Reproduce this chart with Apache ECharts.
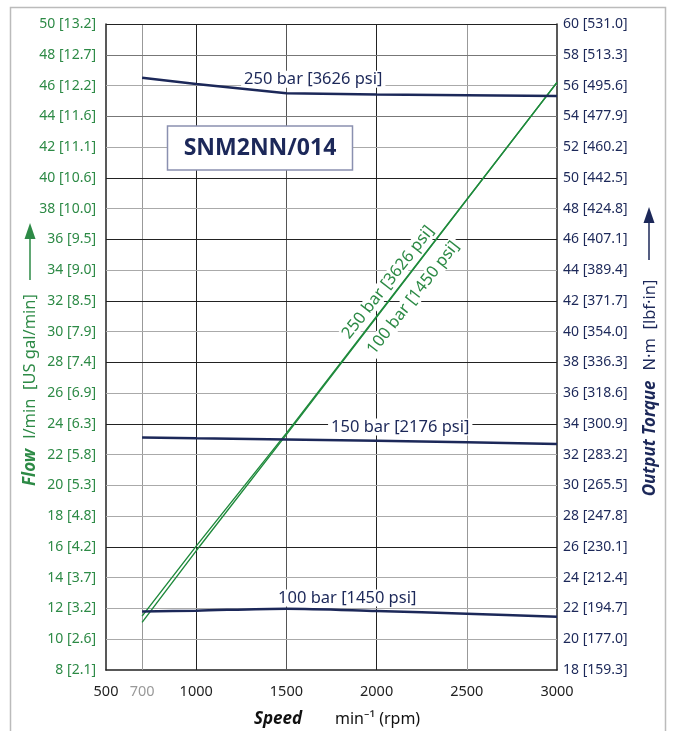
<!DOCTYPE html>
<html>
<head>
<meta charset="utf-8">
<script src="https://cdn.jsdelivr.net/npm/echarts@6/dist/echarts.min.js"></script>
<style>
  html, body { margin: 0; padding: 0; background: #fff; }
  #chart { width: 673px; height: 731px; }
</style>
</head>
<body>
<div id="chart"></div>
<script>
// speed axis (rpm)
const speedTicks = [500, 700, 1000, 1500, 2000, 2500, 3000];
const speedTickText = ['500', '700', '1000', '1500', '2000', '2500', '3000'];

// left axis: flow l/min [US gal/min]
const flowTicks = [8, 10, 12, 14, 16, 18, 20, 22, 24, 26, 28, 30, 32, 34, 36, 38, 40, 42, 44, 46, 48, 50];
const flowGal = ['2.1', '2.6', '3.2', '3.7', '4.2', '4.8', '5.3', '5.8', '6.3', '6.9', '7.4',
  '7.9', '8.5', '9.0', '9.5', '10.0', '10.6', '11.1', '11.6', '12.2', '12.7', '13.2'];

// right axis: output torque N·m [lbf·in]
const torqueTicks = [18, 20, 22, 24, 26, 28, 30, 32, 34, 36, 38, 40, 42, 44, 46, 48, 50, 52, 54, 56, 58, 60];
const torqueLbf = ['159.3', '177.0', '194.7', '212.4', '230.1', '247.8', '265.5', '283.2', '300.9', '318.6', '336.3',
  '354.0', '371.7', '389.4', '407.1', '424.8', '442.5', '460.2', '477.9', '495.6', '513.3', '531.0'];

// flow curves (green)
const flowSpeed = [700, 1000, 1500, 3000];
const flow250 = [11.5, 16.05, 23.4, 46.2];
const flow100 = [11.1, 15.75, 23.3, 46.2];

// torque curves (navy)
const torqueSpeed = [700, 1000, 1500, 2000, 2500, 3000];
const torque250 = [56.5, 56.1, 55.5, 55.42, 55.37, 55.32];
const torque150 = [33.12, 33.06, 32.98, 32.9, 32.8, 32.7];
const torque100 = [21.8, 21.86, 21.99, 21.84, 21.66, 21.47];

// grid lines
const vGridDark = [1000, 2000];
const vGridMid = [1500];
const vGridLight = [700, 2500];
const hGridDark = [16, 24, 28, 32, 36, 40, 50];
const hGridMid = [44, 48];
const hGridLight = [10, 12, 14, 18, 20, 22, 26, 30, 34, 38, 42, 46];

const GREEN = '#2d8a46';
const GREEN_LINE = '#1f8a3c';
const NAVY = '#1c2859';
const FONT = 'Noto Sans';

const zip = (xs, ys) => xs.map((x, i) => [x, ys[i]]);

const gl = (color) => ({ color: color, width: 1, type: 'solid' });
const gridLines = [].concat(
  vGridDark.map(v => ({ xAxis: v, lineStyle: gl('#222') })),
  vGridMid.map(v => ({ xAxis: v, lineStyle: gl('#555') })),
  vGridLight.map(v => ({ xAxis: v, lineStyle: gl('#999') })),
  hGridDark.map(v => ({ yAxis: v, lineStyle: gl('#222') })),
  hGridMid.map(v => ({ yAxis: v, lineStyle: gl('#777') })),
  hGridLight.map(v => ({ yAxis: v, lineStyle: gl('#aaa') }))
);

const chart = echarts.init(document.getElementById('chart'), null, { renderer: 'canvas' });

const lineLabel = (color, rotate) => ({
  show: true,
  position: 'inside',
  formatter: p => p.name,
  color: color,
  fontFamily: FONT,
  fontSize: 16.5,
  rotate: rotate,
  backgroundColor: '#fff',
  padding: [0, 3]
});

chart.setOption({
  animation: false,
  backgroundColor: '#fff',
  textStyle: { fontFamily: FONT },
  grid: { left: 106, top: 24, width: 451, height: 646 },
  xAxis: {
    type: 'value',
    min: 500,
    max: 3000,
    interval: 100,
    splitLine: { show: false },
    axisTick: { show: false },
    axisLine: { show: true, lineStyle: { color: '#222', width: 1.5 } },
    axisLabel: {
      margin: 14,
      color: '#222',
      fontSize: 14.5,
      fontFamily: FONT,
      formatter: v => {
        const i = speedTicks.indexOf(v);
        if (i < 0) return '';
        return v === 700 ? '{g|' + speedTickText[i] + '}' : speedTickText[i];
      },
      rich: { g: { color: '#999', fontSize: 14.5, fontFamily: FONT } }
    }
  },
  yAxis: [
    {
      type: 'value',
      position: 'left',
      min: 8,
      max: 50,
      interval: 2,
      splitLine: { show: false },
      axisTick: { show: false },
      axisLine: { show: true, lineStyle: { color: '#222', width: 1.5 } },
      axisLabel: {
        margin: 10,
        color: GREEN,
        fontSize: 14,
        fontFamily: FONT,
        padding: [5, 0, 0, 0],
        formatter: v => {
          const i = flowTicks.indexOf(v);
          return i < 0 ? '' : v + ' [' + flowGal[i] + ']';
        }
      }
    },
    {
      type: 'value',
      position: 'right',
      min: 18,
      max: 60,
      interval: 2,
      splitLine: { show: false },
      axisTick: { show: false },
      axisLine: { show: true, lineStyle: { color: '#222', width: 1.5 } },
      axisLabel: {
        margin: 6,
        color: NAVY,
        fontSize: 14,
        fontFamily: FONT,
        padding: [3, 0, 0, 0],
        formatter: v => {
          const i = torqueTicks.indexOf(v);
          return i < 0 ? '' : v + ' [' + torqueLbf[i] + ']';
        }
      }
    }
  ],
  series: [
    {
      // grid lines
      type: 'line',
      data: [],
      silent: true,
      markLine: {
        silent: true,
        z: 1,
        symbol: ['none', 'none'],
        label: { show: false },
        data: gridLines
      }
    },
    {
      // flow curve labels
      type: 'line',
      data: [],
      yAxisIndex: 0,
      silent: true,
      markPoint: {
        z: 2,
        symbol: 'rect',
        symbolSize: 1,
        itemStyle: { color: 'rgba(0,0,0,0)' },
        label: lineLabel(GREEN, 52),
        data: [
          { name: '250 bar [3626 psi]', coord: [2064, 33.2] },
          { name: '100 bar [1450 psi]', coord: [2203, 32.2] }
        ]
      }
    },
    {
      // torque curve labels
      type: 'line',
      data: [],
      yAxisIndex: 1,
      silent: true,
      markPoint: {
        z: 2,
        symbol: 'rect',
        symbolSize: 1,
        itemStyle: { color: 'rgba(0,0,0,0)' },
        label: lineLabel(NAVY, 0),
        data: [
          { name: '250 bar [3626 psi]', coord: [1649, 56.4] },
          { name: '150 bar [2176 psi]', coord: [2131, 33.8] },
          { name: '100 bar [1450 psi]', coord: [1837, 22.68] }
        ]
      }
    },
    {
      name: 'Flow 250 bar',
      type: 'line',
      yAxisIndex: 0,
      z: 3,
      symbol: 'none',
      data: zip(flowSpeed, flow250),
      lineStyle: { color: GREEN_LINE, width: 1.4 }
    },
    {
      name: 'Flow 100 bar',
      type: 'line',
      yAxisIndex: 0,
      z: 3,
      symbol: 'none',
      data: zip(flowSpeed, flow100),
      lineStyle: { color: GREEN_LINE, width: 1.4 }
    },
    {
      name: 'Torque 250 bar',
      type: 'line',
      yAxisIndex: 1,
      z: 3,
      symbol: 'none',
      data: zip(torqueSpeed, torque250),
      lineStyle: { color: NAVY, width: 2.5 }
    },
    {
      name: 'Torque 150 bar',
      type: 'line',
      yAxisIndex: 1,
      z: 3,
      symbol: 'none',
      data: zip(torqueSpeed, torque150),
      lineStyle: { color: NAVY, width: 2.5 }
    },
    {
      name: 'Torque 100 bar',
      type: 'line',
      yAxisIndex: 1,
      z: 3,
      symbol: 'none',
      smooth: 0.3,
      data: zip(torqueSpeed, torque100),
      lineStyle: { color: NAVY, width: 2.5 }
    }
  ],
  graphic: [
    // outer frame
    {
      type: 'rect',
      z: 0,
      silent: true,
      shape: { x: 10.5, y: 7.5, width: 655, height: 760 },
      style: { fill: 'none', stroke: '#bbb', lineWidth: 1.5 }
    },
    // model box
    {
      type: 'rect',
      z: 10,
      shape: { x: 167.5, y: 126, width: 185, height: 44 },
      style: { fill: '#fff', stroke: '#8a90b0', lineWidth: 1.5 }
    },
    {
      type: 'text',
      z: 11,
      x: 260,
      y: 148,
      style: {
        text: 'SNM2NN/014',
        fill: NAVY,
        font: 'bold 23px "Noto Sans"',
        align: 'center',
        verticalAlign: 'middle'
      }
    },
    // x axis title
    {
      type: 'text',
      x: 254,
      y: 719,
      style: {
        text: 'Speed',
        fill: '#111',
        font: 'italic bold 17px "Noto Sans"',
        verticalAlign: 'middle'
      }
    },
    {
      type: 'text',
      x: 335,
      y: 719,
      style: {
        text: 'min\u207B\u00B9 (rpm)',
        fill: '#111',
        font: '16px "Noto Sans"',
        verticalAlign: 'middle'
      }
    },
    // left axis title
    {
      type: 'text',
      x: 30,
      y: 390,
      rotation: Math.PI / 2,
      style: {
        text: '{b|Flow}   {r|l/min  [US gal/min]}',
        align: 'center',
        verticalAlign: 'middle',
        rich: {
          b: { fill: GREEN, font: 'italic bold 17px "Noto Sans"' },
          r: { fill: GREEN, font: '16.5px "Noto Sans"' }
        }
      }
    },
    {
      type: 'line',
      shape: { x1: 30, y1: 280, x2: 30, y2: 236 },
      style: { stroke: GREEN, lineWidth: 1.5 }
    },
    {
      type: 'polygon',
      shape: { points: [[24.5, 239], [35.5, 239], [30, 223]] },
      style: { fill: GREEN }
    },
    // right axis title
    {
      type: 'text',
      x: 650,
      y: 388,
      rotation: Math.PI / 2,
      style: {
        text: '{b|Output Torque}   {r|N\u00B7m  [lbf\u00B7in]}',
        align: 'center',
        verticalAlign: 'middle',
        rich: {
          b: { fill: NAVY, font: 'italic bold 17px "Noto Sans"' },
          r: { fill: NAVY, font: '16.5px "Noto Sans"' }
        }
      }
    },
    {
      type: 'line',
      shape: { x1: 649, y1: 260, x2: 649, y2: 220 },
      style: { stroke: NAVY, lineWidth: 1.5 }
    },
    {
      type: 'polygon',
      shape: { points: [[643.5, 223], [654.5, 223], [649, 207]] },
      style: { fill: NAVY }
    }
  ]
});
</script>
</body>
</html>
